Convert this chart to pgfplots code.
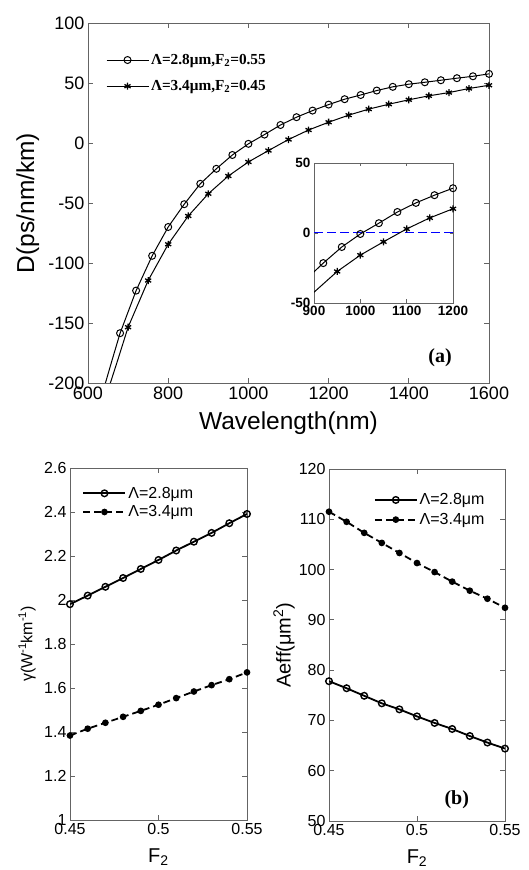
\documentclass[border=0pt]{standalone}
\usepackage{fontspec}
\setmainfont{Liberation Sans}
\newfontfamily\tnr{Liberation Serif}
\usepackage{pgfplots}
\pgfplotsset{compat=1.18}
\definecolor{axgray}{RGB}{100,100,100}
\definecolor{dashblue}{RGB}{0,0,255}

\pgfplotsset{
  mat/.style={
    scale only axis, anchor=south west,
    axis line style={axgray, line width=0.9pt},
    every tick/.style={axgray, line width=0.9pt},
    major tick length=5pt,
    tick align=inside,
    /pgf/number format/assume math mode=true,
    /pgf/number format/1000 sep={},
    legend cell align=left,
  },
  leg/.style={
    legend image code/.code={
      \draw[##1, mark=none] (0pt,0pt) -- (42pt,0pt);
      \draw[##1, only marks] plot coordinates {(21pt,0pt)};
    },
  },
}

\begin{document}
\begin{tikzpicture}
\useasboundingbox (0pt,0pt) rectangle (529pt,870pt);

% ---- (a) dispersion
\begin{axis}[mat, leg, at={(88pt,487pt)}, width=401pt, height=360pt,
  xmin=600, xmax=1600, ymin=-200, ymax=100,
  xtick={600,800,1000,1200,1400,1600},
  ytick={-200,-150,-100,-50,0,50,100},
  tick label style={font=\fontsize{18}{18}\selectfont},
  xlabel={Wavelength(nm)}, ylabel={D(ps/nm/km)},
  label style={font=\fontsize{24.5}{24.5}\selectfont},
  xlabel style={at={(axis description cs:0.5,-0.111)}, anchor=center},
  ylabel style={at={(axis description cs:-0.15,0.5)}, anchor=center},
  legend style={at={(0.037,0.925)}, anchor=north west, draw=none, fill=none,
    font=\tnr\bfseries\fontsize{15.3}{15.3}\selectfont, row sep=10.5pt},
]
% steep parts below the first marker
\addplot[black, line width=1pt, forget plot] coordinates {(640,-204)(660,-181)(680,-158.5)};
\addplot[black, line width=1pt, forget plot] coordinates {(650,-206)(675,-180)(700,-153.5)};
\addplot[black, line width=1pt, mark=o, mark size=3.5pt]
  coordinates {
  (680,-158.5)(720,-123)(760,-94)(800,-70)(840,-51)(880,-34)
  (920,-21.5)(960,-10)(1000,-0.7)(1040,7)(1080,15)(1120,21.5)(1160,27)(1200,32)
  (1240,36.5)(1280,40)(1320,43.7)(1360,46.8)(1400,49)(1440,50.6)(1480,52.3)
  (1520,54)(1560,55.6)(1600,57.6)};
\addlegendentry{Λ=2.8μm,F\textsubscript{2}=0.55}
\addplot[black, line width=1pt, mark=asterisk, mark size=3.5pt, mark options={line width=1.3pt}]
  coordinates {
  (700,-153.5)(750,-114.6)(800,-84.4)(850,-60.8)(900,-42.3)
  (950,-27.5)(1000,-15.8)(1050,-6.3)(1100,2.9)(1150,10.8)(1200,17.3)(1250,23.2)
  (1300,28.2)(1350,32.3)(1400,36)(1450,39.3)(1500,42)(1550,45.4)(1600,48.1)};
\addlegendentry{Λ=3.4μm,F\textsubscript{2}=0.45}
\node[font=\tnr\bfseries\fontsize{20}{20}\selectfont] at (rel axis cs:0.878,0.069) {(a)};
\end{axis}

% ---- inset
\begin{axis}[mat, at={(314pt,567pt)}, width=139pt, height=140pt,
  xmin=900, xmax=1200, ymin=-50, ymax=50,
  xtick={900,1000,1100,1200}, ytick={-50,0,50},
  major tick length=3.5pt,
  tick label style={font=\bfseries\fontsize{13.5}{13.5}\selectfont},
  axis background/.style={fill=white},
]
\addplot[draw=dashblue, line width=1pt, dash pattern=on 9pt off 4pt] coordinates {(900,0)(1200,0)};
% lines run a little past the box and are clipped
\addplot[black, line width=1pt] coordinates {(880,-34)(920,-21.5)(960,-10)(1000,-0.7)(1040,7)
  (1080,15)(1120,21.5)(1160,27)(1200,32)};
\addplot[black, line width=1pt] coordinates {(850,-60.8)(900,-42.3)(950,-27.5)(1000,-15.8)
  (1050,-6.3)(1100,2.9)(1150,10.8)(1200,17.3)};
% markers inside the box only
\addplot[black, only marks, mark=o, mark size=3.5pt, line width=1pt]
  coordinates {(920,-21.5)(960,-10)(1000,-0.7)(1040,7)(1080,15)(1120,21.5)(1160,27)(1200,32)};
\addplot[black, only marks, mark=asterisk, mark size=3.5pt, line width=1.3pt]
  coordinates {(950,-27.5)(1000,-15.8)(1050,-6.3)(1100,2.9)(1150,10.8)(1200,17.3)};
\end{axis}

% ---- (b) left: nonlinear coefficient
\begin{axis}[mat, leg, at={(70pt,50pt)}, width=177pt, height=352pt,
  xmin=0.45, xmax=0.55, ymin=1, ymax=2.6,
  xtick={0.45,0.5,0.55}, ytick={1,1.2,1.4,1.6,1.8,2,2.2,2.4,2.6},
  tick label style={font=\fontsize{16}{16}\selectfont},
  xlabel={F\textsubscript{2}}, ylabel={γ(W\textsuperscript{-1}km\textsuperscript{-1})},
  xlabel style={font=\fontsize{20}{20}\selectfont, at={(axis description cs:0.5,-0.105)}, anchor=center},
  ylabel style={font=\fontsize{16}{16}\selectfont, at={(axis description cs:-0.243,0.5)}, anchor=center},
  legend style={at={(0.053,0.958)}, anchor=north west, draw=none, fill=none,
    font=\fontsize{16}{16}\selectfont, row sep=2pt},
]
\addplot[black, line width=1.8pt, mark=o, mark size=3.3pt, mark options={line width=1.4pt}]
  coordinates {(0.45,1.981)(0.46,2.020)(0.47,2.060)(0.48,2.100)(0.49,2.141)(0.50,2.182)
  (0.51,2.225)(0.52,2.265)(0.53,2.305)(0.54,2.349)(0.55,2.391)};
\addlegendentry{Λ=2.8μm}
\addplot[black, line width=1.8pt, dash pattern=on 7pt off 4pt, mark=*, mark size=2.4pt, mark options={solid}]
  coordinates {(0.45,1.384)(0.46,1.415)(0.47,1.442)(0.48,1.469)(0.49,1.496)(0.50,1.524)
  (0.51,1.554)(0.52,1.584)(0.53,1.613)(0.54,1.640)(0.55,1.671)};
\addlegendentry{Λ=3.4μm}
\end{axis}

% ---- (b) right: effective area
\begin{axis}[mat, leg, at={(329pt,49pt)}, width=176pt, height=352pt,
  xmin=0.45, xmax=0.55, ymin=50, ymax=120,
  xtick={0.45,0.5,0.55}, ytick={50,60,70,80,90,100,110,120},
  tick label style={font=\fontsize{16}{16}\selectfont},
  xlabel={F\textsubscript{2}}, ylabel={Aeff(μm\textsuperscript{2})},
  xlabel style={font=\fontsize{20}{20}\selectfont, at={(axis description cs:0.5,-0.105)}, anchor=center},
  ylabel style={font=\fontsize{20}{20}\selectfont, at={(axis description cs:-0.256,0.5)}, anchor=center},
  legend style={at={(0.237,0.942)}, anchor=north west, draw=none, fill=none,
    font=\fontsize{16}{16}\selectfont, row sep=3pt},
]
\addplot[black, line width=1.8pt, mark=o, mark size=3.3pt, mark options={line width=1.4pt}]
  coordinates {(0.45,77.8)(0.46,76.4)(0.47,74.9)(0.48,73.4)(0.49,72.2)(0.50,70.8)
  (0.51,69.5)(0.52,68.3)(0.53,66.9)(0.54,65.6)(0.55,64.4)};
\addlegendentry{Λ=2.8μm}
\addplot[black, line width=1.8pt, dash pattern=on 7pt off 4pt, mark=*, mark size=2.4pt, mark options={solid}]
  coordinates {(0.45,111.5)(0.46,109.5)(0.47,107.3)(0.48,105.3)(0.49,103.3)(0.50,101.3)
  (0.51,99.5)(0.52,97.6)(0.53,95.8)(0.54,94.2)(0.55,92.4)};
\addlegendentry{Λ=3.4μm}
\node[font=\tnr\bfseries\fontsize{20}{20}\selectfont] at (rel axis cs:0.726,0.06) {(b)};
\end{axis}
\end{tikzpicture}
\end{document}
